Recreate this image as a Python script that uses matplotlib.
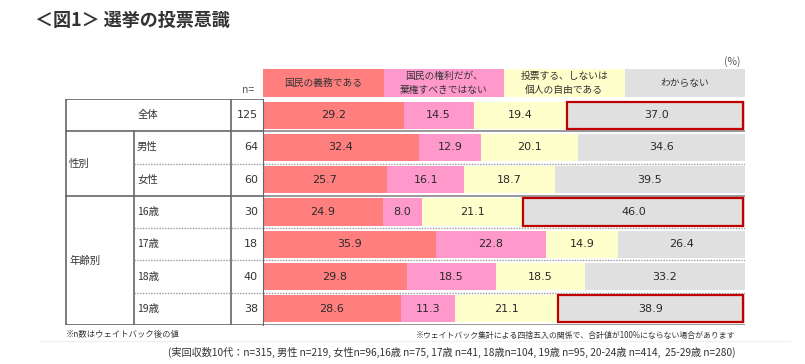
import matplotlib
matplotlib.use('Agg')
from matplotlib import pyplot as plt
from matplotlib.patches import Rectangle
import numpy as np

plt.rcParams['font.family'] = ['Noto Sans CJK JP', 'DejaVu Sans']

# data
rows = ['全体', '男性', '女性', '16歳', '17歳', '18歳', '19歳']
n_vals = [125, 64, 60, 30, 18, 40, 38]
gimu = [29.2, 32.4, 25.7, 24.9, 35.9, 29.8, 28.6]
kenri = [14.5, 12.9, 16.1, 8.0, 22.8, 18.5, 11.3]
jiyu = [19.4, 20.1, 18.7, 21.1, 14.9, 18.5, 21.1]
wakaranai = [37.0, 34.6, 39.5, 46.0, 26.4, 33.2, 38.9]
highlight = [0, 3, 6]
legend_labels = ['国民の義務である', '国民の権利だが、\n棄権すべきではない',
                 '投票する、しないは\n個人の自由である', 'わからない']
colors = ['#FF7F7F', '#FF99CC', '#FFFFCC', '#E0E0E0']

W, H = 805, 364


def fx(x):
    return x / W


def fy(y):
    return 1 - y / H


fig = plt.figure(figsize=(W / 100, H / 100), dpi=100)

top, bot = 99, 325
ax = fig.add_axes([fx(263), fy(bot), (745 - 263) / W, (bot - top) / H])
tab = fig.add_axes([fx(65), fy(bot), (263 - 65) / W, (bot - top) / H])
hdr = fig.add_axes([fx(263), fy(97), (745 - 263) / W, 28 / H])

y = np.arange(len(rows))
series = [gimu, kenri, jiyu, wakaranai]
left = np.zeros(len(rows))
for vals, c in zip(series, colors):
    vals = np.array(vals)
    ax.barh(y, vals, left=left, height=0.84, color=c, zorder=2)
    for yi, (l, v) in enumerate(zip(left, vals)):
        ax.text(l + v / 2, yi, f'{v:.1f}', ha='center', va='center',
                fontsize=8, color='#2a2a2a', family='DejaVu Sans', zorder=4)
    left += vals

# red highlight boxes round the "わからない" segments
for i in highlight:
    start = 100 - wakaranai[i]
    ax.add_patch(Rectangle((start, i - 0.42), wakaranai[i] - 0.4, 0.84,
                           fill=False, edgecolor='#C00000', lw=1.6, zorder=5))

for b in [0.5, 2.5, 6.5]:
    ax.axhline(b, color='#888888', lw=1.2, zorder=1)
for b in [1.5, 3.5, 4.5, 5.5]:
    ax.axhline(b, color='#999999', lw=1, ls=(0, (1, 1)), zorder=1)

ax.set_xlim(0, 100)
ax.set_ylim(6.5, -0.5)
ax.set_xticks([])
ax.set_yticks([])
for s in ['top', 'right', 'bottom']:
    ax.spines[s].set_visible(False)
ax.spines['left'].set_color('#666666')
ax.patch.set_alpha(0)

# table on the left
tab.set_xlim(65, 263)
tab.set_ylim(6.5, -0.5)
tab.axis('off')
lc = '#666666'
tab.plot([65.5, 65.5], [-0.5, 6.5], color=lc, lw=1.2)
tab.plot([231, 231], [-0.5, 6.5], color=lc, lw=1.2)
tab.plot([134, 134], [0.5, 6.5], color=lc, lw=1.2)
for b in [-0.5, 0.5, 2.5, 6.5]:
    tab.plot([65, 263], [b, b], color=lc, lw=1.2)
for b in [1.5, 3.5, 4.5, 5.5]:
    tab.plot([134, 263], [b, b], color='#999999', lw=1, ls=(0, (1, 1)))

tab.text(148, 0, rows[0], ha='center', va='center', fontsize=7.5, color='#333333')
tab.text(69, 1.5, '性別', ha='left', va='center', fontsize=7.5, color='#333333')
tab.text(69, 4.5, '年齢別', ha='left', va='center', fontsize=7.5, color='#333333')
for i in range(1, len(rows)):
    tab.text(137, i, rows[i], ha='left', va='center', fontsize=7.5, color='#333333')
for i, n in enumerate(n_vals):
    tab.text(258, i, str(n), ha='right', va='center', fontsize=8,
             color='#333333', family='DejaVu Sans')

# header legend boxes
hdr.set_xlim(0, 4)
hdr.set_ylim(0, 1)
hdr.axis('off')
for i, (lab, c) in enumerate(zip(legend_labels, colors)):
    hdr.add_patch(Rectangle((i, 0), 1, 1, color=c, lw=0))
    hdr.text(i + 0.5, 0.5, lab, ha='center', va='center', fontsize=7,
             color='#333333', linespacing=1.5)

fig.text(fx(35), fy(20), '＜図1＞ 選挙の投票意識', ha='left', va='center',
         fontsize=13, fontweight='bold', color='#333333')
fig.text(fx(248), fy(90), 'n=', ha='center', va='center', fontsize=7.5, color='#555555')
fig.text(fx(740), fy(62), '(%)', ha='right', va='center', fontsize=7.5, color='#555555')

fig.text(fx(66), fy(335), '※n数はウェイトバック後の値', ha='left', va='center',
         fontsize=6, color='#333333')
fig.text(fx(735), fy(335), '※ウェイトバック集計による四捨五入の関係で、合計値が100%にならない場合があります',
         ha='right', va='center', fontsize=5.7, color='#333333')
fig.text(fx(735), fy(352),
         '(実回収数10代：n=315, 男性 n=219, 女性n=96,16歳 n=75, 17歳 n=41, 18歳n=104, 19歳 n=95, 20-24歳 n=414,  25-29歳 n=280)',
         ha='right', va='center', fontsize=7.3, color='#333333')
fig.add_artist(plt.Line2D([fx(40), fx(790)], [fy(341), fy(341)], color='#f0f0f0', lw=1))

fig.savefig('out.png', dpi=100)
